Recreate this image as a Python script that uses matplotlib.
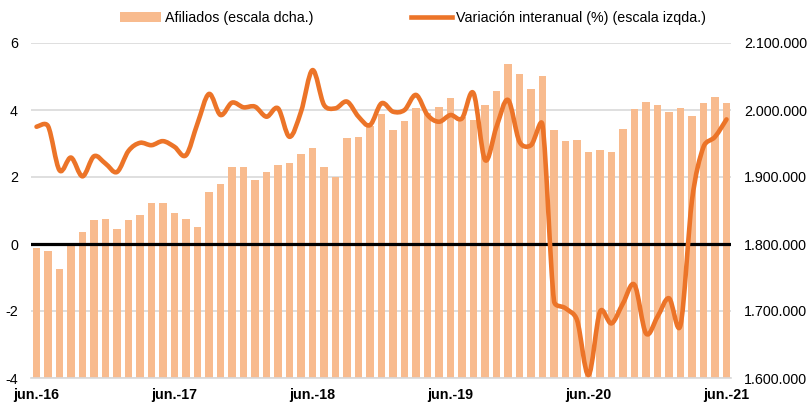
import math
import matplotlib
matplotlib.use("Agg")
import matplotlib.pyplot as plt
from matplotlib.path import Path
from matplotlib.patches import PathPatch, Patch
from matplotlib.lines import Line2D
from matplotlib.ticker import FuncFormatter

plt.rcParams["font.family"] = ["Liberation Sans", "DejaVu Sans"]
plt.rcParams["axes.unicode_minus"] = False

# monthly, jun-2016 .. jun-2021
afiliados = [
    1794500, 1789000, 1762000, 1799000, 1818000, 1836000, 1838000, 1822000,
    1836000, 1843000, 1861500, 1861500, 1847000, 1838000, 1825000, 1877500,
    1889000, 1914500, 1914500, 1896000, 1907000, 1918000, 1921000, 1934000,
    1943000, 1914500, 1899500, 1958000, 1959500, 1976000, 1994000, 1970000,
    1983000, 2003000, 1995000, 2005000, 2017500, 1989000, 1985000, 2007000,
    2029000, 2068500, 2053500, 2031000, 2050500, 1970000, 1953500, 1955700,
    1937000, 1941000, 1937000, 1972000, 2001500, 2012000, 2007000, 1997500,
    2003000, 1990500, 2010000, 2019500, 2010000,
]
variacion = [
    3.50, 3.52, 2.20, 2.58, 2.02, 2.62, 2.40, 2.15, 2.78, 3.02, 2.95, 3.07,
    2.90, 2.65, 3.60, 4.48, 3.85, 4.22, 4.08, 4.10, 3.80, 4.05, 3.20, 3.95,
    5.19, 4.15, 4.05, 4.25, 3.80, 3.55, 4.20, 3.95, 4.00, 4.45, 3.85, 3.65,
    3.85, 3.75, 4.50, 2.51, 3.50, 4.30, 3.05, 2.95, 3.55, -1.70, -1.92, -2.27,
    -3.91, -2.02, -2.37, -1.77, -1.22, -2.67, -2.17, -1.62, -2.42, 1.31, 2.90,
    3.20, 3.72,
]
tick_labels = ["jun.-16", "jun.-17", "jun.-18", "jun.-19", "jun.-20", "jun.-21"]

BAR_C = "#F8BB8E"
LINE_C = "#EC7428"
GRID_C = "#D9D9D9"


def smooth_path(xs, ys, aspect, limit=0.5):
    # Catmull-Rom style Bezier through the points; handles are capped at a
    # share of the segment's on-screen length so steep drops don't overshoot
    n = len(xs)

    def handle(i, j, a, b, d):
        hx, hy = (xs[b] - xs[a]) / 6, (ys[b] - ys[a]) / 6
        ln = math.hypot(hx, hy * aspect)
        if ln > d * limit:
            s = d * limit / ln
            hx, hy = hx * s, hy * s
        return hx, hy

    verts = [(xs[0], ys[0])]
    codes = [Path.MOVETO]
    for i in range(n - 1):
        d = math.hypot(xs[i + 1] - xs[i], (ys[i + 1] - ys[i]) * aspect)
        h0 = handle(i, i + 1, max(i - 1, 0), i + 1, d)
        h1 = handle(i + 1, i, i, min(i + 2, n - 1), d)
        c1 = (xs[i] + h0[0], ys[i] + h0[1])
        c2 = (xs[i + 1] - h1[0], ys[i + 1] - h1[1])
        verts += [c1, c2, (xs[i + 1], ys[i + 1])]
        codes += [Path.CURVE4] * 3
    return Path(verts, codes)


def main():
    fig = plt.figure(figsize=(8.08, 4.03), dpi=100)
    ax = fig.add_axes([31 / 808, 25 / 403, 700 / 808, 335 / 403])
    ax2 = ax.twinx()
    x = list(range(len(afiliados)))

    # bars on the right scale
    ax.bar(x, afiliados, width=0.62, color=BAR_C, zorder=2)
    ax.set_ylim(1600000, 2100000)
    ax.set_yticks(range(1600000, 2100001, 100000))
    ax.yaxis.set_major_formatter(FuncFormatter(lambda v, p: f"{int(v):,}".replace(",", ".")))
    ax.grid(axis="y", color=GRID_C, lw=1.2, zorder=0)
    ax.set_axisbelow(True)
    ax.set_xlim(-0.48, 60.39)
    ax.set_xticks([0, 12, 24, 36, 48, 60])
    ax.set_xticklabels(tick_labels, fontweight="bold")
    for s in ["top", "left", "right"]:
        ax.spines[s].set_visible(False)
    ax.spines["bottom"].set_color(GRID_C)
    ax.spines["bottom"].set_linewidth(1.2)
    ax.tick_params(axis="both", length=0, labelsize=10.3, colors="#000000")
    ax.tick_params(axis="y", pad=9.4)
    ax.tick_params(axis="x", pad=7)

    # line on the left scale
    ax2.set_ylim(-4, 6)
    ax2.set_yticks(range(-4, 7, 2))
    ax2.tick_params(axis="y", length=0, labelsize=10.3, pad=9.4)
    for s in ax2.spines.values():
        s.set_visible(False)
    ax2.axhline(0, color="black", lw=2.3, zorder=3)
    # pixels per y unit / pixels per x unit
    aspect = (335 / 10) / (700 / 60.87)
    ax2.add_patch(PathPatch(smooth_path(x, variacion, aspect), fill=False,
                            edgecolor=LINE_C, lw=3.3, capstyle="round",
                            joinstyle="round", zorder=4))

    # swap sides: bars read on the right, line on the left
    ax.yaxis.tick_right()
    ax2.yaxis.tick_left()

    handles = [Patch(facecolor=BAR_C, edgecolor="none"),
               Line2D([], [], color=LINE_C, lw=3.3)]
    labels = ["Afiliados (escala dcha.)",
              "Variación interanual (%) (escala izqda.)"]
    fig.legend(handles, labels, loc="center", bbox_to_anchor=(0.511, 0.955),
               ncol=2, frameon=False, fontsize=10.3, handlelength=2.9,
               handleheight=0.7, handletextpad=0.25, columnspacing=6.8)

    fig.savefig("out.png", dpi=100)


if __name__ == "__main__":
    main()
